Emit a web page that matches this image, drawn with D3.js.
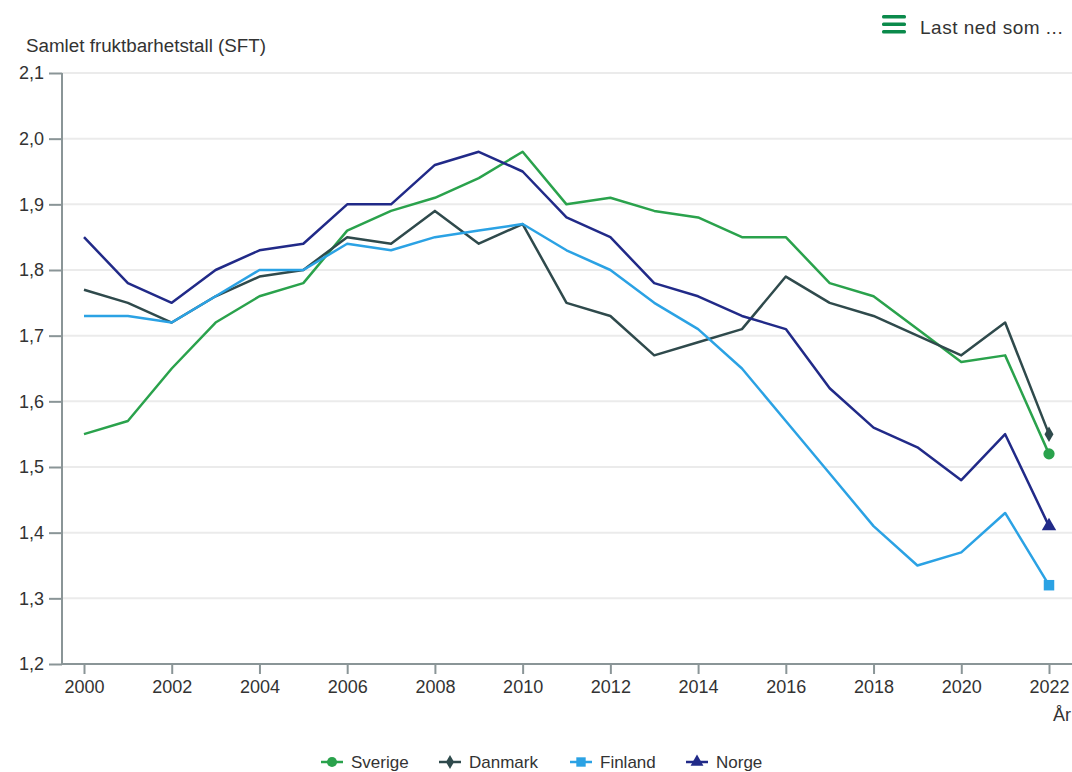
<!DOCTYPE html>
<head>
    <meta charset="utf-8" />
    <script src="https://d3js.org/d3.v7.min.js"></script>
    <style>
        body { margin: 0; background: #fff; }
        text { font-family: "Liberation Sans", Arial, sans-serif; fill: #333; }
    </style>
</head>
<body>
<script>
    // data
    var years = d3.range(2000, 2023);
    var sverige = [1.55, 1.57, 1.65, 1.72, 1.76, 1.78, 1.86, 1.89, 1.91, 1.94, 1.98, 1.90, 1.91, 1.89, 1.88, 1.85, 1.85, 1.78, 1.76, 1.71, 1.66, 1.67, 1.52];
    var danmark = [1.77, 1.75, 1.72, 1.76, 1.79, 1.80, 1.85, 1.84, 1.89, 1.84, 1.87, 1.75, 1.73, 1.67, 1.69, 1.71, 1.79, 1.75, 1.73, 1.70, 1.67, 1.72, 1.55];
    var finland = [1.73, 1.73, 1.72, 1.76, 1.80, 1.80, 1.84, 1.83, 1.85, 1.86, 1.87, 1.83, 1.80, 1.75, 1.71, 1.65, 1.57, 1.49, 1.41, 1.35, 1.37, 1.43, 1.32];
    var norge = [1.85, 1.78, 1.75, 1.80, 1.83, 1.84, 1.90, 1.90, 1.96, 1.98, 1.95, 1.88, 1.85, 1.78, 1.76, 1.73, 1.71, 1.62, 1.56, 1.53, 1.48, 1.55, 1.41];
    var yTicks = [1.2, 1.3, 1.4, 1.5, 1.6, 1.7, 1.8, 1.9, 2.0, 2.1];
    var xTicks = d3.range(2000, 2023, 2);

    var series = [
        { name: "Sverige", values: sverige, color: "#2aa24c", symbol: d3.symbolCircle, size: 100 },
        { name: "Danmark", values: danmark, color: "#2f4a4c", symbol: d3.symbolDiamond, size: 70 },
        { name: "Finland", values: finland, color: "#2ba2e4", symbol: d3.symbolSquare, size: 110 },
        { name: "Norge", values: norge, color: "#212a88", symbol: d3.symbolTriangle, size: 90 }
    ];

    var width = 1072, height = 772;
    var svg = d3.select("body").append("svg").attr("width", width).attr("height", height);

    var plotLeft = 62, plotRight = 1072, plotTop = 73, plotBottom = 664;

    var x = d3.scaleLinear().domain([2000, 2022]).range([84, 1049]);
    var y = d3.scaleLinear().domain([1.2, 2.1]).range([plotBottom, plotTop]);

    var fmt = function(d) { return d3.format(".1f")(d).replace(".", ","); };

    // gridlines
    svg.append("g").selectAll("line")
        .data(yTicks.slice(1))
        .join("line")
        .attr("x1", plotLeft).attr("x2", plotRight)
        .attr("y1", d => y(d)).attr("y2", d => y(d))
        .attr("stroke", "#ebebeb").attr("stroke-width", 2);

    // y axis
    var yAxis = svg.append("g")
        .attr("transform", "translate(" + plotLeft + ",0)")
        .call(d3.axisLeft(y).tickValues(yTicks).tickFormat(fmt).tickSize(13).tickPadding(5));
    yAxis.select(".domain").attr("stroke", "#8a9597").attr("stroke-width", 2)
        .attr("d", "M0," + plotTop + "V" + plotBottom);
    yAxis.selectAll(".tick line").attr("stroke", "#8a9597").attr("stroke-width", 2);
    yAxis.selectAll(".tick text").style("font-size", "18px").attr("fill", "#333")
        .style("font-family", "Liberation Sans, Arial, sans-serif");

    // x axis
    var xAxis = svg.append("g")
        .attr("transform", "translate(0," + plotBottom + ")")
        .call(d3.axisBottom(x).tickValues(xTicks).tickFormat(d3.format("d")).tickSize(10).tickPadding(6));
    xAxis.select(".domain").attr("stroke", "#8a9597").attr("stroke-width", 2)
        .attr("d", "M" + plotLeft + ",0H" + plotRight);
    xAxis.selectAll(".tick line").attr("stroke", "#8a9597").attr("stroke-width", 2);
    xAxis.selectAll(".tick text").style("font-size", "18px").attr("fill", "#333")
        .style("font-family", "Liberation Sans, Arial, sans-serif");

    svg.append("text").attr("x", 1053).attr("y", 721).style("font-size", "18px").text("År");

    // title
    svg.append("text").attr("x", 26).attr("y", 52).style("font-size", "18.8px").text("Samlet fruktbarhetstall (SFT)");

    // lines
    var line = d3.line().x((d, i) => x(years[i])).y(d => y(d));
    svg.append("g").selectAll("path")
        .data(series)
        .join("path")
        .attr("d", d => line(d.values))
        .attr("fill", "none")
        .attr("stroke", d => d.color)
        .attr("stroke-width", 2.5)
        .attr("stroke-linejoin", "round");

    // last point markers
    svg.append("g").selectAll("path")
        .data(series)
        .join("path")
        .attr("transform", d => "translate(" + x(2022) + "," + y(d.values[d.values.length - 1]) + ")")
        .attr("d", d => d3.symbol().type(d.symbol).size(d.size)())
        .attr("fill", d => d.color);

    // legend
    var legendX = [321, 439, 570, 686];
    var legend = svg.append("g").selectAll("g")
        .data(series)
        .join("g")
        .attr("transform", (d, i) => "translate(" + legendX[i] + ",762)");
    legend.append("line").attr("x1", 0).attr("x2", 22).attr("y1", 0).attr("y2", 0)
        .attr("stroke", d => d.color).attr("stroke-width", 2.5);
    legend.append("path")
        .attr("transform", "translate(11,0)")
        .attr("d", d => d3.symbol().type(d.symbol).size(d.size * 0.8)())
        .attr("fill", d => d.color);
    legend.append("text").attr("x", 30).attr("y", 6).style("font-size", "17px").text(d => d.name);

    // menu button
    var menu = svg.append("g").attr("transform", "translate(882,0)");
    menu.selectAll("rect").data([15, 22.5, 30]).join("rect")
        .attr("x", 0).attr("y", d => d).attr("width", 24).attr("height", 3.5).attr("rx", 1.5)
        .attr("fill", "#0b8a4b");
    svg.append("text").attr("x", 920).attr("y", 34).style("font-size", "19px")
        .style("letter-spacing", "0.5px").attr("fill", "#3a3a4a")
        .text("Last ned som ...");
</script>
</body>
